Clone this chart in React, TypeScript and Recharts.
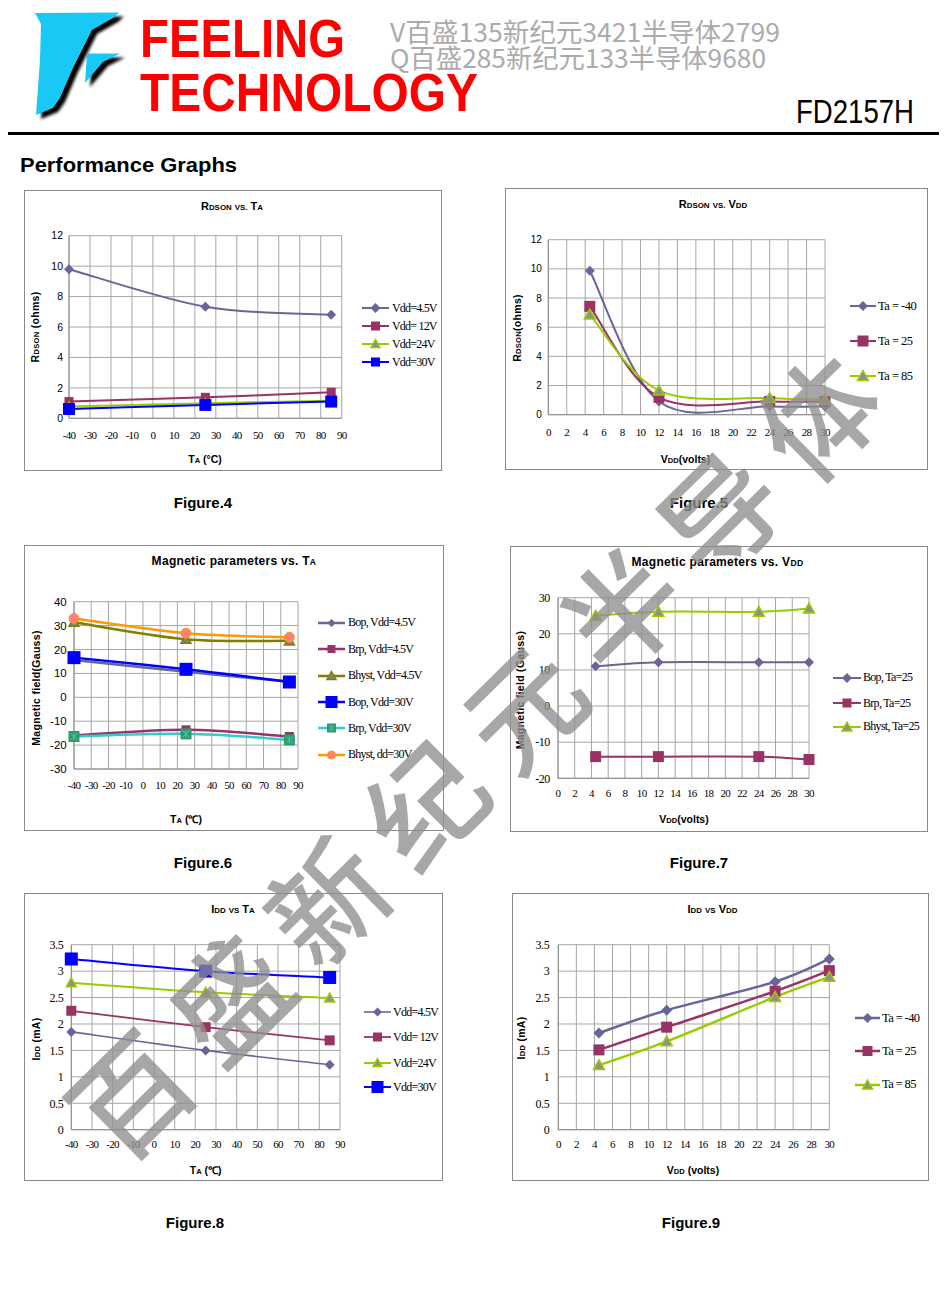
import React from "react";
import { LineChart, Line, XAxis, YAxis, CartesianGrid } from "recharts";

// x positions shared by the curves
const taPoints = [-40, 25, 85];
const vddPoints = [4.5, 12, 24, 30];

// tick labels
const taTicks = [-40, -30, -20, -10, 0, 10, 20, 30, 40, 50, 60, 70, 80, 90];
const vddTicks = [0, 2, 4, 6, 8, 10, 12, 14, 16, 18, 20, 22, 24, 26, 28, 30];
const rdsonTicks = [0, 2, 4, 6, 8, 10, 12];
const magTaTicks = [-30, -20, -10, 0, 10, 20, 30, 40];
const magVddTicks = [-20, -10, 0, 10, 20, 30];
const iddTicks = [0, 0.5, 1, 1.5, 2, 2.5, 3, 3.5];

// Figure 4 - Rdson vs Ta
const rdsonTaVdd45 = [9.8, 7.33, 6.8];
const rdsonTaVdd12 = [1.1, 1.38, 1.71];
const rdsonTaVdd24 = [0.77, 0.99, 1.16];
const rdsonTaVdd30 = [0.61, 0.88, 1.1];

// Figure 5 - Rdson vs Vdd
const rdsonVddTaM40 = [9.87, 0.91, 0.57, 0.57];
const rdsonVddTa25 = [7.43, 1.19, 0.91, 0.91];
const rdsonVddTa85 = [6.86, 1.65, 1.14, 1.03];

// Figure 6 - magnetic parameters vs Ta
const bopTaVdd45 = [15.6, 10.7, 6.5];
const brpTaVdd45 = [-16, -13.6, -16.4];
const bhystTaVdd45 = [31.4, 24.3, 23.6];
const bopTaVdd30 = [16.6, 11.7, 6.4];
const brpTaVdd30 = [-16.4, -15.3, -17.8];
const bhystTaVdd30 = [33, 26.8, 25.1];

// Figure 7 - magnetic parameters vs Vdd
const bopVddTa25 = [11, 12.1, 12.1, 12.1];
const brpVddTa25 = [-14, -14, -14, -14.8];
const bhystVddTa25 = [25, 26.1, 26.1, 27];

// Figure 8 - Idd vs Ta
const iddTaVdd45 = [1.85, 1.5, 1.23];
const iddTaVdd12 = [2.25, 1.94, 1.69];
const iddTaVdd24 = [2.78, 2.6, 2.49];
const iddTaVdd30 = [3.23, 3.0, 2.88];

// Figure 9 - Idd vs Vdd
const iddVddTaM40 = [1.83, 2.26, 2.8, 3.23];
const iddVddTa25 = [1.51, 1.94, 2.62, 3.01];
const iddVddTa85 = [1.22, 1.67, 2.51, 2.89];

const SERIF = "'Liberation Serif', 'Times New Roman', serif";
const SANS = "'Liberation Sans', Arial, sans-serif";

const SLATE = "#666699";
const PLUM = "#993366";
const LIME = "#99cc00";
const BLUE = "#0000ff";
const OLIVE = "#808000";
const AQUA = "#33cccc";
const TEAL = "#339966";
const ORANGE = "#ff9900";
const SALMON = "#ff8080";
const GRAYFILL = "#8f8f8f";

type Shape = "diamond" | "square" | "triangle" | "circle" | "squareX";

interface Series {
  name: string;
  values: number[];
  color: string;
  width: number;
  shape: Shape;
  size: number;
  fill?: string;
  legendSize?: number;
}

// smoothed line like the spreadsheet's (catmull-rom through the points)
const excelSmooth: any = (ctx: any) => {
  let pts: number[][] = [];
  return {
    areaStart() {},
    areaEnd() {},
    lineStart() {
      pts = [];
    },
    point(x: number, y: number) {
      pts.push([+x, +y]);
    },
    lineEnd() {
      if (!pts.length) return;
      ctx.moveTo(pts[0][0], pts[0][1]);
      for (let i = 0; i < pts.length - 1; i++) {
        const a = pts[Math.max(i - 1, 0)];
        const b = pts[i];
        const c = pts[i + 1];
        const d = pts[Math.min(i + 2, pts.length - 1)];
        ctx.bezierCurveTo(
          b[0] + (c[0] - a[0]) / 6,
          b[1] + (c[1] - a[1]) / 6,
          c[0] - (d[0] - b[0]) / 6,
          c[1] - (d[1] - b[1]) / 6,
          c[0],
          c[1]
        );
      }
    },
  };
};

function marker(s: Series, cx: number, cy: number, size: number) {
  const h = size / 2;
  switch (s.shape) {
    case "diamond":
      return <polygon points={`${cx},${cy - h} ${cx + h},${cy} ${cx},${cy + h} ${cx - h},${cy}`} fill={s.color} />;
    case "square":
      return <rect x={cx - h} y={cy - h} width={size} height={size} fill={s.fill ?? s.color} />;
    case "triangle":
      return (
        <polygon
          points={`${cx},${cy - h} ${cx + h},${cy + h * 0.8} ${cx - h},${cy + h * 0.8}`}
          fill={s.fill}
          stroke={s.color}
          strokeWidth={1.5}
        />
      );
    case "circle":
      return <circle cx={cx} cy={cy} r={h} fill={s.fill} stroke={s.color} strokeWidth={1} />;
    case "squareX":
      return (
        <g>
          <rect x={cx - h} y={cy - h} width={size} height={size} fill={s.fill} />
          <path
            d={`M${cx - h + 2},${cy - h + 2}L${cx + h - 2},${cy + h - 2}M${cx + h - 2},${cy - h + 2}L${cx - h + 2},${cy + h - 2}M${cx},${cy - h + 2}V${cy + h - 2}`}
            stroke={s.color}
            strokeWidth={1}
          />
        </g>
      );
  }
  return null;
}

const sm = (t: string) => <span style={{ fontSize: "0.72em" }}>{t}</span>;

interface PanelSpec {
  box: { x: number; y: number; w: number; h: number };
  plot: { l: number; t: number; r: number; b: number };
  xs: number[];
  xDomain: [number, number];
  xTicks: number[];
  xGap: number;
  yDomain: [number, number];
  yTicks: number[];
  yTick: { family: string; size: number; spacing: number; gap: number };
  series: Series[];
  title: React.ReactNode;
  titlePos: [number, number];
  titleSize: number;
  xTitle: React.ReactNode;
  xTitlePos: [number, number];
  yTitle: React.ReactNode;
  yTitlePos: [number, number];
  legend: { x: number; lineEnd: number; textX: number; rows: number[]; fontSize: number; spacing: number };
  caption: string;
  captionPos: [number, number];
}

const centered = (cx: number, cy: number): React.CSSProperties => ({
  position: "absolute",
  left: cx,
  top: cy,
  transform: "translate(-50%, -50%)",
  whiteSpace: "nowrap",
  lineHeight: 1,
});

function Panel({ p }: { p: PanelSpec }) {
  const { box, plot } = p;
  const rows = p.xs.map((x, i) => {
    const row: Record<string, number> = { x };
    p.series.forEach((s, k) => {
      row["s" + k] = s.values[i];
    });
    return row;
  });
  const xAxisH = 30;
  const axisStroke = "#8c8c8c";
  const lg = p.legend;
  return (
    <>
      <div
        style={{
          position: "absolute",
          left: box.x,
          top: box.y,
          width: box.w,
          height: box.h,
          border: "1px solid #8a8a8a",
          boxSizing: "border-box",
        }}
      />
      <div style={{ position: "absolute", left: box.x, top: box.y, width: box.w, height: box.h }}>
        <LineChart
          width={box.w}
          height={box.h}
          data={rows}
          margin={{
            top: plot.t - box.y,
            right: box.x + box.w - plot.r,
            bottom: box.y + box.h - plot.b - xAxisH,
            left: 0,
          }}
        >
          <CartesianGrid stroke="#a6a6a6" />
          <XAxis
            type="number"
            dataKey="x"
            domain={p.xDomain}
            ticks={p.xTicks}
            interval={0}
            height={xAxisH}
            tickLine={false}
            tickSize={0}
            tickMargin={p.xGap}
            axisLine={{ stroke: axisStroke }}
            tick={{ fontFamily: SERIF, fontSize: 11, fill: "#000", letterSpacing: -0.7 }}
          />
          <YAxis
            type="number"
            domain={p.yDomain}
            ticks={p.yTicks}
            interval={0}
            width={plot.l - box.x}
            tickLine={false}
            tickSize={0}
            tickMargin={p.yTick.gap}
            axisLine={{ stroke: axisStroke }}
            tick={{ fontFamily: p.yTick.family, fontSize: p.yTick.size, fill: "#000", letterSpacing: p.yTick.spacing }}
          />
          {p.series.map((s, k) => (
            <Line
              key={s.name}
              dataKey={"s" + k}
              type={excelSmooth}
              stroke={s.color}
              strokeWidth={s.width}
              isAnimationActive={false}
              activeDot={false}
              dot={(d: any) => <g key={`m${k}-${d.index}`}>{marker(s, d.cx, d.cy, s.size)}</g>}
            />
          ))}
        </LineChart>
      </div>

      <div style={{ ...centered(p.titlePos[0], p.titlePos[1]), fontFamily: SANS, fontWeight: 700, fontSize: p.titleSize }}>
        {p.title}
      </div>
      <div style={{ ...centered(p.xTitlePos[0], p.xTitlePos[1]), fontFamily: SANS, fontWeight: 700, fontSize: 10.5 }}>
        {p.xTitle}
      </div>
      <div
        style={{
          ...centered(p.yTitlePos[0], p.yTitlePos[1]),
          transform: "translate(-50%, -50%) rotate(-90deg)",
          fontFamily: SANS,
          fontWeight: 700,
          fontSize: 10.5,
          letterSpacing: 0.3,
        }}
      >
        {p.yTitle}
      </div>

      {p.series.map((s, k) => (
        <div key={"lg" + k} style={{ position: "absolute", left: lg.x, top: lg.rows[k] - 8, height: 16 }}>
          <svg width={lg.lineEnd - lg.x} height={16} style={{ position: "absolute", left: 0, top: 0, overflow: "visible" }}>
            <line x1={0} y1={8} x2={lg.lineEnd - lg.x} y2={8} stroke={s.color} strokeWidth={s.width} />
            {marker(s, (lg.lineEnd - lg.x) / 2, 8, s.legendSize ?? s.size)}
          </svg>
          <span
            style={{
              position: "absolute",
              left: lg.textX - lg.x,
              top: 8 - lg.fontSize * 0.6,
              fontFamily: SERIF,
              fontSize: lg.fontSize,
              letterSpacing: lg.spacing,
              lineHeight: 1.2,
              whiteSpace: "pre",
            }}
          >
            {s.name}
          </span>
        </div>
      ))}

      <div style={{ ...centered(p.captionPos[0], p.captionPos[1]), fontFamily: SANS, fontWeight: 700, fontSize: 15 }}>
        {p.caption}
      </div>
    </>
  );
}

const panels: PanelSpec[] = [
  {
    box: { x: 24, y: 190, w: 418, h: 281 },
    plot: { l: 69, t: 235.7, r: 341.7, b: 418.3 },
    xs: taPoints,
    xDomain: [-40, 90],
    xTicks: taTicks,
    xGap: 13,
    yDomain: [0, 12],
    yTicks: rdsonTicks,
    yTick: { family: SANS, size: 10.5, spacing: 0, gap: 6 },
    series: [
      { name: "Vdd=4.5V", values: rdsonTaVdd45, color: SLATE, width: 2, shape: "diamond", size: 10 },
      { name: "Vdd= 12V", values: rdsonTaVdd12, color: PLUM, width: 2, shape: "square", size: 9 },
      { name: "Vdd=24V", values: rdsonTaVdd24, color: LIME, width: 2, shape: "triangle", size: 9, fill: GRAYFILL },
      { name: "Vdd=30V", values: rdsonTaVdd30, color: BLUE, width: 2, shape: "square", size: 12, legendSize: 9 },
    ],
    title: <>R{sm("DSON")} {sm("VS.")} T{sm("A")}</>,
    titlePos: [232, 205.5],
    titleSize: 11,
    xTitle: <>T{sm("A")} (°C)</>,
    xTitlePos: [205, 459],
    yTitle: <>R{sm("DSON")} (ohms)</>,
    yTitlePos: [34.7, 327],
    legend: { x: 362, lineEnd: 389, textX: 392, rows: [308.3, 326, 344, 362], fontSize: 12, spacing: -0.8 },
    caption: "Figure.4",
    captionPos: [203, 502],
  },
  {
    box: { x: 505, y: 188, w: 423, h: 282 },
    plot: { l: 548.3, t: 239.7, r: 825, b: 414.7 },
    xs: vddPoints,
    xDomain: [0, 30],
    xTicks: vddTicks,
    xGap: 13,
    yDomain: [0, 12],
    yTicks: rdsonTicks,
    yTick: { family: SANS, size: 10, spacing: 0, gap: 6.5 },
    series: [
      { name: "Ta = -40", values: rdsonVddTaM40, color: SLATE, width: 2, shape: "diamond", size: 10 },
      { name: "Ta = 25", values: rdsonVddTa25, color: PLUM, width: 2, shape: "square", size: 11 },
      { name: "Ta = 85", values: rdsonVddTa85, color: LIME, width: 2, shape: "triangle", size: 11, fill: GRAYFILL },
    ],
    title: <>R{sm("DSON")} {sm("VS.")} V{sm("DD")}</>,
    titlePos: [713, 204],
    titleSize: 11,
    xTitle: <>V{sm("DD")}(volts)</>,
    xTitlePos: [685.5, 458.6],
    yTitle: <>R{sm("DSON")}(ohms)</>,
    yTitlePos: [517, 328],
    legend: { x: 850, lineEnd: 876, textX: 878, rows: [306.3, 341.3, 376.3], fontSize: 12.5, spacing: -0.5 },
    caption: "Figure.5",
    captionPos: [699, 502],
  },
  {
    box: { x: 24, y: 545, w: 420, h: 286 },
    plot: { l: 74, t: 601.7, r: 298, b: 769 },
    xs: taPoints,
    xDomain: [-40, 90],
    xTicks: taTicks,
    xGap: 12,
    yDomain: [-30, 40],
    yTicks: magTaTicks,
    yTick: { family: SANS, size: 11.5, spacing: 0, gap: 7.3 },
    series: [
      { name: "Bop, Vdd=4.5V", values: bopTaVdd45, color: SLATE, width: 2.5, shape: "diamond", size: 9, legendSize: 8 },
      { name: "Brp, Vdd=4.5V", values: brpTaVdd45, color: PLUM, width: 2.5, shape: "square", size: 9, legendSize: 8 },
      { name: "Bhyst, Vdd=4.5V", values: bhystTaVdd45, color: OLIVE, width: 2.5, shape: "triangle", size: 10, fill: "#808080", legendSize: 9 },
      { name: "Bop, Vdd=30V", values: bopTaVdd30, color: BLUE, width: 2.5, shape: "square", size: 13, legendSize: 12 },
      { name: "Brp, Vdd=30V", values: brpTaVdd30, color: AQUA, width: 2.5, shape: "squareX", size: 11, fill: TEAL, legendSize: 9 },
      { name: "Bhyst, dd=30V", values: bhystTaVdd30, color: ORANGE, width: 2.5, shape: "circle", size: 10, fill: SALMON, legendSize: 8 },
    ],
    title: <span style={{ letterSpacing: 0.3 }}>Magnetic parameters vs. T{sm("A")}</span>,
    titlePos: [234, 561],
    titleSize: 12,
    xTitle: <>T{sm("A")} (℃)</>,
    xTitlePos: [186, 818.7],
    yTitle: <>Magnetic field(Gauss)</>,
    yTitlePos: [35.7, 688],
    legend: { x: 318, lineEnd: 345, textX: 348, rows: [622.5, 649, 675.5, 702, 728, 754.5], fontSize: 12, spacing: -0.75 },
    caption: "Figure.6",
    captionPos: [203, 862],
  },
  {
    box: { x: 510, y: 546, w: 418, h: 286 },
    plot: { l: 558, t: 597.7, r: 809, b: 778.3 },
    xs: vddPoints,
    xDomain: [0, 30],
    xTicks: vddTicks,
    xGap: 11,
    yDomain: [-20, 30],
    yTicks: magVddTicks,
    yTick: { family: SERIF, size: 12, spacing: -0.5, gap: 8.3 },
    series: [
      { name: "Bop, Ta=25", values: bopVddTa25, color: SLATE, width: 2, shape: "diamond", size: 10 },
      { name: "Brp, Ta=25", values: brpVddTa25, color: PLUM, width: 2, shape: "square", size: 11, legendSize: 9 },
      { name: "Bhyst, Ta=25", values: bhystVddTa25, color: LIME, width: 2, shape: "triangle", size: 11, fill: GRAYFILL, legendSize: 10 },
    ],
    title: <span style={{ letterSpacing: 0.3 }}>Magnetic parameters vs. V{sm("DD")}</span>,
    titlePos: [717.5, 561.7],
    titleSize: 12,
    xTitle: <>V{sm("DD")}(volts)</>,
    xTitlePos: [684, 818.5],
    yTitle: <>Magnetic field (Gauss)</>,
    yTitlePos: [519.7, 690],
    legend: { x: 833, lineEnd: 861, textX: 863, rows: [677.7, 703.3, 726.7], fontSize: 12, spacing: -0.7 },
    caption: "Figure.7",
    captionPos: [699, 862],
  },
  {
    box: { x: 24, y: 893, w: 419, h: 288 },
    plot: { l: 71.3, t: 944.7, r: 340, b: 1129.7 },
    xs: taPoints,
    xDomain: [-40, 90],
    xTicks: taTicks,
    xGap: 10,
    yDomain: [0, 3.5],
    yTicks: iddTicks,
    yTick: { family: SERIF, size: 12, spacing: -0.4, gap: 8 },
    series: [
      { name: "Vdd=4.5V", values: iddTaVdd45, color: SLATE, width: 1.6, shape: "diamond", size: 10, legendSize: 9 },
      { name: "Vdd= 12V", values: iddTaVdd12, color: PLUM, width: 1.8, shape: "square", size: 10, legendSize: 9 },
      { name: "Vdd=24V", values: iddTaVdd24, color: LIME, width: 2, shape: "triangle", size: 10, fill: GRAYFILL, legendSize: 9 },
      { name: "Vdd=30V", values: iddTaVdd30, color: BLUE, width: 2, shape: "square", size: 13, legendSize: 12 },
    ],
    title: <>I{sm("DD")} {sm("VS")} T{sm("A")}</>,
    titlePos: [233, 909],
    titleSize: 11,
    xTitle: <>T{sm("A")} (℃)</>,
    xTitlePos: [205.7, 1170],
    yTitle: <>I{sm("DD")} (mA)</>,
    yTitlePos: [36, 1038.5],
    legend: { x: 364, lineEnd: 391, textX: 393, rows: [1012.3, 1037.3, 1063, 1087.3], fontSize: 12, spacing: -0.75 },
    caption: "Figure.8",
    captionPos: [195, 1222],
  },
  {
    box: { x: 512, y: 893, w: 417, h: 288 },
    plot: { l: 558.3, t: 944.7, r: 829.3, b: 1129.7 },
    xs: vddPoints,
    xDomain: [0, 30],
    xTicks: vddTicks,
    xGap: 10.5,
    yDomain: [0, 3.5],
    yTicks: iddTicks,
    yTick: { family: SERIF, size: 12, spacing: -0.4, gap: 9 },
    series: [
      { name: "Ta = -40", values: iddVddTaM40, color: SLATE, width: 2.5, shape: "diamond", size: 11, legendSize: 10 },
      { name: "Ta = 25", values: iddVddTa25, color: PLUM, width: 2.5, shape: "square", size: 11, legendSize: 10 },
      { name: "Ta = 85", values: iddVddTa85, color: LIME, width: 2.5, shape: "triangle", size: 11, fill: GRAYFILL, legendSize: 10 },
    ],
    title: <>I{sm("DD")} {sm("VS")} V{sm("DD")}</>,
    titlePos: [712.5, 909],
    titleSize: 11,
    xTitle: <>V{sm("DD")} (volts)</>,
    xTitlePos: [693, 1169.7],
    yTitle: <>I{sm("DD")} (mA)</>,
    yTitlePos: [521, 1038],
    legend: { x: 855, lineEnd: 880, textX: 882, rows: [1018, 1051.3, 1084.7], fontSize: 12.5, spacing: -0.6 },
    caption: "Figure.9",
    captionPos: [691, 1222],
  },
];

function Header() {
  const mainShape = "35,13 119,12.5 113,18 92,30 73,68 60,98 53,108 36,115 40,60 41,24";
  const arm = "87,53.5 120,53.5 103,62 85,83";
  return (
    <svg width={947} height={180} style={{ position: "absolute", left: 0, top: 0 }}>
      <defs>
        <filter id="logoShadow" x="-30%" y="-30%" width="160%" height="160%">
          <feGaussianBlur stdDeviation="1.6" />
        </filter>
      </defs>
      <g transform="translate(5,4)" fill="#000" filter="url(#logoShadow)">
        <polygon points={mainShape} />
        <polygon points={arm} />
      </g>
      <g fill="#19c9f5">
        <polygon points={mainShape} />
        <polygon points={arm} />
      </g>
      <text x={140} y={57} fontFamily={SANS} fontWeight={700} fontSize={54} fill="#ff0000" textLength={205} lengthAdjust="spacingAndGlyphs">
        FEELING
      </text>
      <text x={140} y={111} fontFamily={SANS} fontWeight={700} fontSize={54} fill="#ff0000" textLength={338} lengthAdjust="spacingAndGlyphs">
        TECHNOLOGY
      </text>
      <text x={390} y={42} fontFamily="'Noto Sans CJK SC', sans-serif" fontSize={26} fill="#ababab" textLength={390} lengthAdjust="spacingAndGlyphs">
        V百盛135新纪元3421半导体2799
      </text>
      <text x={390} y={68} fontFamily="'Noto Sans CJK SC', sans-serif" fontSize={26} fill="#ababab" textLength={376} lengthAdjust="spacingAndGlyphs">
        Q百盛285新纪元133半导体9680
      </text>
      <text x={796} y={123} fontFamily={SANS} fontSize={34} fill="#000" textLength={118} lengthAdjust="spacingAndGlyphs">
        FD2157H
      </text>
      <rect x={8} y={132} width={931} height={3} fill="#000" />
      <text x={20} y={172} fontFamily={SANS} fontWeight={700} fontSize={21} fill="#000" textLength={217} lengthAdjust="spacingAndGlyphs">
        Performance Graphs
      </text>
    </svg>
  );
}

export default function App() {
  return (
    <div style={{ position: "absolute", left: 0, top: 0, width: 947, height: 1289, background: "#fff", overflow: "hidden" }}>
      <Header />
      {panels.map((p) => (
        <Panel key={p.caption} p={p} />
      ))}
      <svg width={947} height={1289} style={{ position: "absolute", left: 0, top: 0, pointerEvents: "none" }}>
        <text
          x={478}
          y={744}
          transform="rotate(-44.6 478 744)"
          textAnchor="middle"
          dominantBaseline="central"
          fontFamily="'Noto Sans CJK SC', sans-serif"
          fontWeight={500}
          fontSize={116}
          letterSpacing={22}
          fill="#8e8e8e"
          fillOpacity={0.78}
        >
          百盛新纪元半导体
        </text>
      </svg>
    </div>
  );
}
